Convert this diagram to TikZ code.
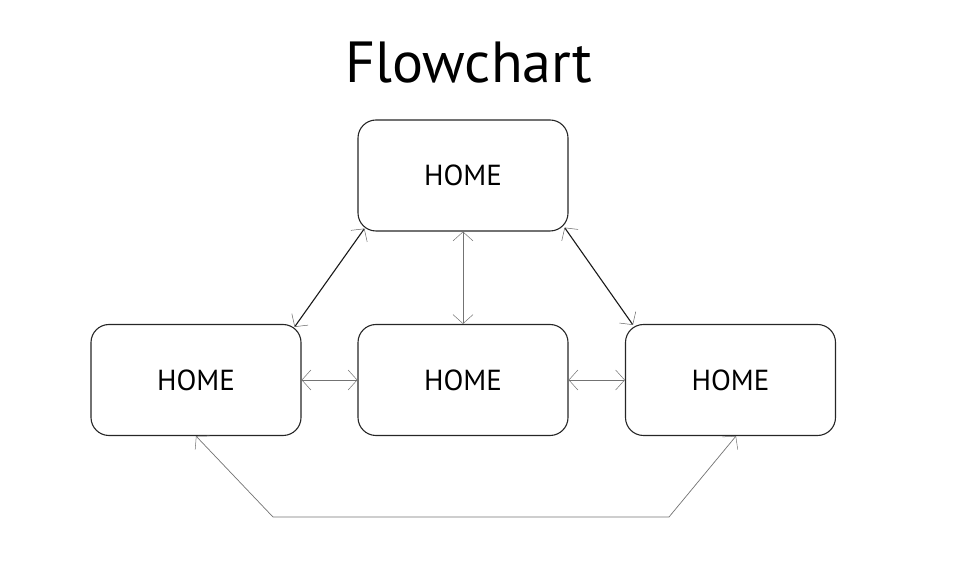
\documentclass[tikz,border=0pt]{standalone}
\usepackage{fontspec}
\setmainfont{PT Sans}
\usetikzlibrary{arrows.meta,calc}
\begin{document}
\begin{tikzpicture}[x=1pt,y=1pt,
  box/.style={draw=black!85, line width=1.1pt, rounded corners=18pt, minimum width=210pt, minimum height=111pt, inner sep=0pt, font=\fontsize{29}{32}\selectfont},
  tip/.style={Straight Barb[length=9pt,width=20pt,line width=0.6pt]},
  dark/.style={draw=black!90, line width=1.1pt, {Straight Barb[length=9pt,width=20pt,line width=0.5pt,color=black!60]}-{Straight Barb[length=9pt,width=20pt,line width=0.5pt,color=black!60]}},
  light/.style={draw=black!55, line width=0.7pt, {Straight Barb[length=9pt,width=20pt,line width=0.5pt]}-{Straight Barb[length=9pt,width=20pt,line width=0.5pt]}}
]
\useasboundingbox (0,0) rectangle (971,586);
\node[font=\fontsize{58}{64}\selectfont] (title) at (469,523) {Flowchart};
\node[box] (top) at (463,410.5) {HOME};
\node[box] (left) at (196,206) {HOME};
\node[box] (mid) at (463,206) {HOME};
\node[box] (right) at (730.5,206) {HOME};
\coordinate (tl1) at ($(top.south west)+(7,3)$);
\coordinate (tl2) at ($(left.north east)+(-7,-3)$);
\coordinate (tr1) at ($(top.south east)+(-4,4)$);
\coordinate (tr2) at ($(right.north west)+(8,-1)$);
\coordinate (bl) at (273,69);
\coordinate (br) at (669,69);
\coordinate (rb) at ($(right.south)+(5.5,0)$);
\draw[dark] (tl1) -- (tl2);
\draw[dark] (tr1) -- (tr2);
\draw[light] (top.south) -- (mid.north);
\draw[light] (left.east) -- (mid.west);
\draw[light] (mid.east) -- (right.west);
\draw[light] (left.south) -- (bl) -- (br) -- (rb);
\end{tikzpicture}
\end{document}
